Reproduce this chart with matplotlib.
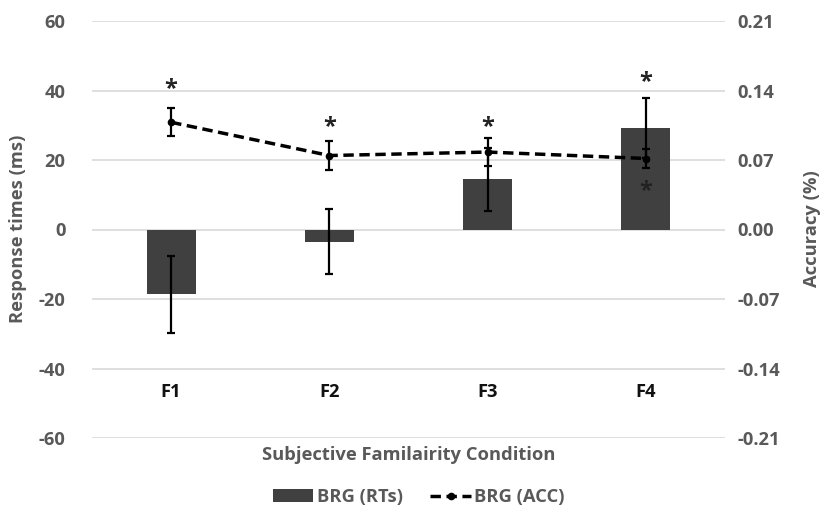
import matplotlib
matplotlib.use("Agg")
import matplotlib.pyplot as plt
from matplotlib.lines import Line2D
from matplotlib.patches import Patch
import matplotlib.transforms as mtransforms

plt.rcParams['font.family'] = ['Open Sans', 'DejaVu Sans']

categories = ["F1", "F2", "F3", "F4"]
rt_means = [-18.7, -3.5, 14.4, 29.1]
rt_err = [11.0, 9.4, 9.1, 8.6]
acc_means = [0.108, 0.0745, 0.078, 0.0715]
acc_err = [0.0143, 0.015, 0.0143, 0.010]
left_ticks = [60, 40, 20, 0, -20, -40, -60]
right_ticks = [0.21, 0.14, 0.07, 0.00, -0.07, -0.14, -0.21]
# significance stars: (category index, y in RT units)
star_cat = [0, 1, 2, 3, 3]
star_rt = [42.0, 31.0, 31.0, 44.0, 12.5]

GRAY = "#595959"
FS = 13.2
fig = plt.figure(figsize=(8.29, 5.14), dpi=100)
ax = fig.add_axes([92/829, 1 - 438/514, (725-92)/829, (438-21)/514])
ax2 = ax.twinx()

x = list(range(len(categories)))
ax.bar(x, rt_means, width=0.31, color="#404040", zorder=2)
ax.errorbar(x, rt_means, yerr=rt_err, fmt='none', ecolor='black',
            elinewidth=1.6, capsize=3, capthick=1.6, zorder=3)

ax2.errorbar(x, acc_means, yerr=acc_err, fmt='none', ecolor='black',
             elinewidth=1.6, capsize=3, capthick=1.6, zorder=3)
ax2.plot(x, acc_means, color='black', linestyle=(0, (3, 1.6)), linewidth=2.5,
         marker='o', markersize=4.5, zorder=4)

for c, yv in zip(star_cat, star_rt):
    ax.text(c, yv - 1.5, "*", ha='center', va='center', fontsize=17,
            fontweight='bold', color='#222222', zorder=5)

ax.set_xlim(-0.5, 3.5)
ax.set_ylim(-60, 60)
ax2.set_ylim(-0.21, 0.21)
ax.set_yticks(left_ticks)
ax.set_yticklabels([str(t) for t in left_ticks])
ax2.set_yticks(right_ticks)
ax2.set_yticklabels([f"{t:.2f}" for t in right_ticks])
ax.grid(axis='y', color='#d9d9d9', linewidth=1.2, zorder=0)
ax.set_axisbelow(True)
ax.set_xticks([])

for a in (ax, ax2):
    for s in a.spines.values():
        s.set_visible(False)
    a.tick_params(axis='y', length=0, labelsize=FS, labelcolor=GRAY)
    for lab in a.get_yticklabels():
        lab.set_fontweight('bold')
ax.tick_params(axis='y', pad=19)
ax2.tick_params(axis='y', pad=9)

trans = mtransforms.blended_transform_factory(ax.transData, ax.transAxes)
for xi, cat in zip(x, categories):
    ax.text(xi, 0.11, cat, transform=trans, ha='center', va='center',
            fontsize=FS, fontweight='bold', color='#111111')

fig.text(409/829, 1 - 455/514, "Subjective Familairity Condition", ha='center',
         va='center', fontsize=FS, fontweight='bold', color=GRAY)
fig.text(18/829, 1 - 229/514, "Response times (ms)", ha='center', va='center',
         rotation=90, fontsize=FS, fontweight='bold', color=GRAY)
fig.text(812/829, 1 - 229/514, "Accuracy (%)", ha='center', va='center',
         rotation=90, fontsize=FS, fontweight='bold', color=GRAY)

handles = [Patch(facecolor="#404040", edgecolor='none'),
           Line2D([], [], color='black', linestyle=(0, (3, 1.6)), linewidth=2.5,
                  marker='o', markersize=4.5)]
leg = fig.legend(handles, ["BRG (RTs)", "BRG (ACC)"], loc='center',
                 bbox_to_anchor=(419/829, 1 - 497/514), ncol=2, frameon=False,
                 fontsize=FS, handlelength=2.2, handletextpad=0.2, columnspacing=1.5)
for t in leg.get_texts():
    t.set_fontweight('bold')
    t.set_color(GRAY)

fig.savefig("out.png", dpi=100)
